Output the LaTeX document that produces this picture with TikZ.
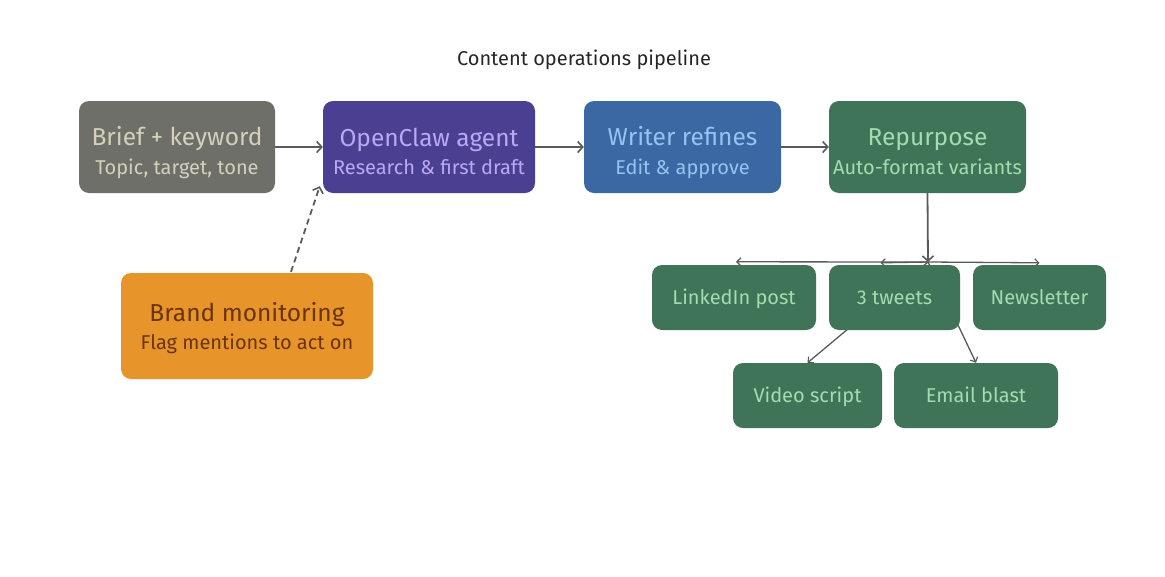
\documentclass[tikz,border=0pt]{standalone}
\usepackage{fontspec}
\setmainfont{Fira Sans}
\usetikzlibrary{arrows.meta,backgrounds,calc}
\definecolor{bgray}{HTML}{6E6F68}
\definecolor{tgray}{HTML}{D3D0BC}
\definecolor{bpurple}{HTML}{4B3F92}
\definecolor{tpurple}{HTML}{B8A8F5}
\definecolor{bblue}{HTML}{3B68A3}
\definecolor{tblue}{HTML}{93C5F2}
\definecolor{bgreen}{HTML}{3F7458}
\definecolor{tgreen}{HTML}{A2DCB0}
\definecolor{borange}{HTML}{E7952B}
\definecolor{torange}{HTML}{6B3410}
\definecolor{edgec}{HTML}{5A5A5A}
\newcommand{\bt}[3][31]{{\fontsize{24.5}{29}\selectfont\rule[-6pt]{0pt}{\dimexpr#1pt+6pt\relax}#2}\\[6pt]{\fontsize{20}{24}\selectfont\rule[-5pt]{0pt}{5pt}#3}}
\begin{document}
\begin{tikzpicture}[x=1pt,y=-1pt,
  box/.style={rounded corners=10pt, inner sep=0pt, align=center, minimum height=92pt},
  small/.style={rounded corners=10pt, inner sep=0pt, align=center, minimum height=65pt, fill=bgreen, text=tgreen, font=\fontsize{20}{24}\selectfont, text height=18pt, text depth=4pt},
  conn/.style={draw=edgec, line width=1.8pt, -{Straight Barb[length=5pt,width=11pt,line width=1.6pt]}},
  fan/.style={draw=edgec, line width=1.3pt, -{Straight Barb[length=4pt,width=8pt,line width=1.2pt]}}
]
\useasboundingbox (0,0) rectangle (1165,576);
\node[font=\fontsize{20}{24}\selectfont, text=black!85] (title) at (584,60) {Content operations pipeline};

\node[box, fill=bgray, text=tgray, minimum width=196pt] (brief) at (177,147)
  {\bt{Brief + keyword}{Topic, target, tone}};
\node[box, fill=bpurple, text=tpurple, minimum width=212pt] (agent) at (429,147)
  {\bt{OpenClaw agent}{Research \& first draft}};
\node[box, fill=bblue, text=tblue, minimum width=197pt] (writer) at (682.5,147)
  {\bt{Writer refines}{Edit \& approve}};
\node[box, fill=bgreen, text=tgreen, minimum width=197pt] (repurpose) at (927.5,147)
  {\bt{Repurpose}{Auto-format variants}};
\node[box, fill=borange, text=torange, minimum width=252pt, minimum height=106pt] (brand) at (247,326)
  {\bt[24]{Brand monitoring}{Flag mentions to act on}};

\node[small, minimum width=164pt] (linkedin) at (734,297.5) {LinkedIn post};
\node[small, minimum width=131pt] (tweets) at (894.5,297.5) {3 tweets};
\node[small, minimum width=133pt] (newsletter) at (1039.5,297.5) {Newsletter};
\node[small, minimum width=149pt] (video) at (807.5,395.5) {Video script};
\node[small, minimum width=164pt] (email) at (976,395.5) {Email blast};

\coordinate (hub) at (928,262);

\begin{scope}[on background layer]
\draw[conn] (brief) -- (agent);
\draw[conn] (agent) -- (writer);
\draw[conn] (writer) -- (repurpose);
\draw[conn, dashed, dash pattern=on 6pt off 4pt] ($(brand.north)+(44,-1)$) -- ($(agent.south west)+(-3,-7)$);
\draw[conn] (repurpose.south) -- (hub);
\draw[fan] (hub) -- ($(linkedin.north)+(2,-3)$);
\draw[fan] (hub) -- ($(newsletter.north)+(0,-2)$);
\draw[fan] (hub) -- ($(tweets.north)+(-14,-2)$);
\draw[fan] (hub) -- (video.north);
\draw[fan] (hub) -- (email.north);
\end{scope}
\end{tikzpicture}
\end{document}
